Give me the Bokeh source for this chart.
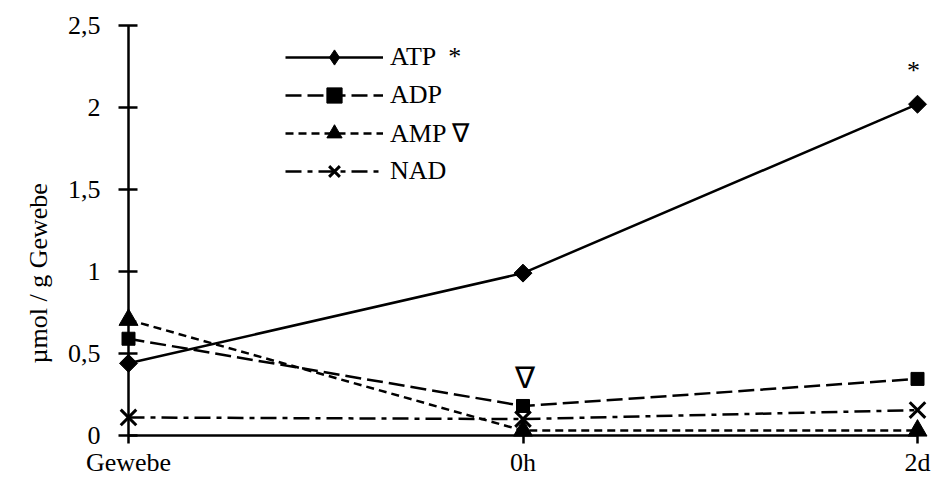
import math

from bokeh.core.properties import value
from bokeh.embed import file_html
from bokeh.models import (CustomJSTickFormatter, FixedTicker, Legend, LegendItem,
                          LinearAxis, Range1d, Title)
from bokeh.plotting import figure
from bokeh.resources import INLINE

# Nucleotide content per stage (µmol / g tissue)
stages = ["Gewebe", "0h", "2d"]
atp = [0.44, 0.99, 2.02]
adp = [0.59, 0.18, 0.345]
amp = [0.705, 0.03, 0.03]
nad = [0.11, 0.10, 0.155]

y_ticks = [0, 0.5, 1, 1.5, 2, 2.5]
y_tick_labels = ["0", "0,5", "1", "1,5", "2", "2,5"]
series_labels = ["ATP  *", "ADP", "AMP \u2207", "NAD"]

FONT = "Liberation Serif"
FS = "26px"
LW = 2.5
xs = list(range(len(stages)))

p = figure(
    width=931, height=482, output_backend="svg", toolbar_location=None,
    x_range=Range1d(0, 2), y_range=Range1d(0, 2.5),
    x_axis_type=None, y_axis_type=None,
    min_border_left=128, min_border_right=14, min_border_top=25, min_border_bottom=47,
    outline_line_color=None, background_fill_color="white", border_fill_color="white",
)
p.grid.visible = False

label_js = "const i = vals.indexOf(tick); return i >= 0 ? names[i] : '';"

yaxis = LinearAxis(
    ticker=FixedTicker(ticks=y_ticks),
    formatter=CustomJSTickFormatter(args=dict(vals=y_ticks, names=y_tick_labels), code=label_js),
)
xaxis = LinearAxis(
    ticker=FixedTicker(ticks=xs),
    formatter=CustomJSTickFormatter(args=dict(vals=xs, names=stages), code=label_js),
)
for ax in (xaxis, yaxis):
    ax.axis_line_width = LW
    ax.axis_line_color = "black"
    ax.major_tick_line_width = LW
    ax.major_tick_line_color = "black"
    ax.minor_tick_line_color = None
    ax.major_label_text_font = FONT
    ax.major_label_text_font_size = FS
    ax.major_label_text_color = "black"

yaxis.major_tick_in = 9
yaxis.major_tick_out = 10
yaxis.major_label_standoff = 18

xaxis.major_tick_in = 0
xaxis.major_tick_out = 8
xaxis.major_label_standoff = 4

p.add_layout(yaxis, "left")
p.add_layout(xaxis, "below")

# vertical axis title, set a little below the middle of the axis
ytitle = Title(text="\u00b5mol / g Gewebe", align="left", offset=72, standoff=24,
               text_font=FONT, text_font_size=FS, text_font_style="normal",
               text_color="black")
p.add_layout(ytitle, "left")

# line dash, marker, marker size, marker angle, marker outline width
styles = [
    ("solid", "square", 12.7, math.pi / 4, 1),
    ("16 6", "square", 13, 0, 1),
    ("8 5", "triangle", 19, 0, 1),
    ("16 6 5 6", "x", 22, 0, 3),
]

items = []
for vals, label, (dash, marker, size, angle, mlw) in zip([atp, adp, amp, nad], series_labels, styles):
    rl = p.line(xs, vals, line_width=LW, line_color="black", line_dash=dash)
    rm = p.scatter(xs, vals, marker=marker, size=size, angle=angle, level="overlay",
                   fill_color="black", line_color="black", line_width=mlw)
    key = [rl, rm]
    if angle:
        # the legend key draws markers unrotated, so give it a hidden diamond twin
        twin = p.scatter(xs, vals, marker="diamond", fill_color="black",
                         line_color="black", line_width=mlw, visible=False)
        key = [rl, twin]
    items.append(LegendItem(label=label, renderers=key))

# significance marks
p.text(x=[xs[2]], y=[atp[2]], text=["*"], x_offset=-4, y_offset=-34,
       text_align="center", text_baseline="alphabetic", level="overlay",
       text_font=value(FONT), text_font_size=FS, text_color="black")
p.text(x=[xs[1]], y=[amp[1]], text=["\u2207"], x_offset=2, y_offset=-53,
       text_align="center", text_baseline="alphabetic", level="overlay",
       text_font=value(FONT), text_font_size="30px", text_color="black")

legend = Legend(
    items=items, location=(157, 245),
    glyph_width=98, glyph_height=38, label_height=38, spacing=0,
    label_standoff=7, padding=0, margin=0,
    border_line_color=None, background_fill_alpha=0, inactive_fill_alpha=0,
    label_text_font=FONT, label_text_font_size=FS, label_text_color="black",
)
p.add_layout(legend)

with open("out.html", "w") as f:
    f.write(file_html(p, INLINE))
